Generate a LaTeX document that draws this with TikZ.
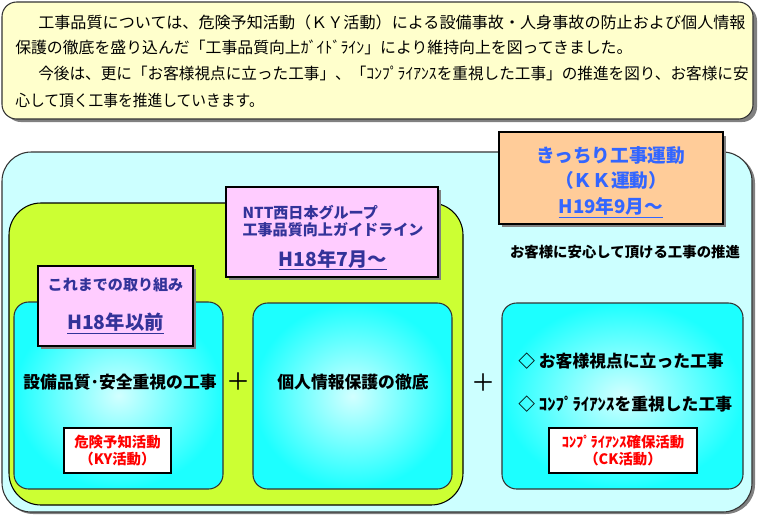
\documentclass[tikz,border=0pt]{standalone}
\usepackage{fontspec}
\usepackage{graphicx}
\setmainfont{Noto Sans CJK JP}
\definecolor{topyellow}{HTML}{FFFFCC}
\definecolor{outercyan}{HTML}{CCFFFF}
\definecolor{limegreen}{HTML}{CCFF33}
\definecolor{boxcyan}{HTML}{1CFFFF}
\definecolor{boxlight}{HTML}{D2FFFF}
\definecolor{pinkfill}{HTML}{FFCCFF}
\definecolor{navytext}{HTML}{333399}
\definecolor{orangefill}{HTML}{FFCC99}
\definecolor{bluetext}{HTML}{3366FF}
\definecolor{shadowgray}{HTML}{808080}
\definecolor{linegray}{HTML}{333333}
\tikzset{
  toptext/.style={anchor=west, inner sep=0pt, font=\fontsize{11.9pt}{14pt}\selectfont},
  shadowbox/.style={fill=shadowgray},
  gradbox/.style={draw=linegray, line width=0.8pt, inner color=boxlight, outer color=boxcyan, rounded corners=11pt},
  pinkbox/.style={draw=black, line width=0.8pt, fill=pinkfill},
  redbox/.style={draw=black, line width=0.8pt, fill=white},
  pinktext/.style={text=navytext, inner sep=0pt, font=\bfseries\fontsize{11.3pt}{14pt}\selectfont},
  pinkdate/.style={text=navytext, inner sep=0pt, font=\bfseries\fontsize{14.5pt}{16pt}\selectfont},
  kktext/.style={text=bluetext, inner sep=0pt, font=\bfseries\fontsize{14pt}{16pt}\selectfont},
  maintext/.style={inner sep=0pt, font=\bfseries\fontsize{12.6pt}{15pt}\selectfont},
  redtext/.style={text=red, inner sep=0pt, font=\bfseries\fontsize{10.8pt}{13pt}\selectfont},
  plustext/.style={inner sep=0pt, font=\fontsize{18pt}{18pt}\selectfont},
}
\begin{document}
\begin{tikzpicture}[x=0.75pt,y=-0.75pt]
\useasboundingbox (0,0) rectangle (760,515);
% top box
\fill[shadowgray, rounded corners=11pt] (6,6) rectangle (757,122);
\draw[fill=topyellow, draw=linegray, line width=0.8pt, rounded corners=11pt] (2,2) rectangle (753,119);
\node[toptext] (t1) at (38,22) {\scalebox{1.015}[1]{工事品質については、危険予知活動（ＫＹ活動）による設備事故・人身事故の防止および個人情報}};
\node[toptext] (t2) at (15,47) {保護の徹底を盛り込んだ「工事品質向上ｶﾞｲﾄﾞﾗｲﾝ」により維持向上を図ってきました。};
\node[toptext] (t3) at (38,73) {\scalebox{0.985}[1]{今後は、更に「お客様視点に立った工事」、「ｺﾝﾌﾟﾗｲｱﾝｽを重視した工事」の推進を図り、お客様に安}};
\node[toptext] (t4) at (15,100) {\scalebox{0.93}[1]{心して頂く工事を推進していきます。}};
% outer box
\fill[shadowgray, rounded corners=22pt] (4,154) rectangle (755,514);
\draw[fill=outercyan, draw=linegray, line width=0.8pt, rounded corners=22pt] (2,152) rectangle (752,512);
% green box
\draw[fill=limegreen, draw=black, line width=0.8pt, rounded corners=24pt] (9,203) rectangle (463,505);
% gradient boxes
\path[gradbox] (14,302) rectangle (223,489);
\path[gradbox] (253,303) rectangle (452,489);
\path[gradbox] (502,303) rectangle (743,489);
% pink box 1
\fill[shadowgray] (41,269) rectangle (196,349);
\draw[pinkbox] (38,266) rectangle (193,346);
\node[pinktext] (p1a) at (115.5,285) {これまでの取り組み};
\node[pinkdate] (p1b) at (115.5,323) {\underline{H18年以前}};
% pink box 2
\fill[shadowgray] (229,190) rectangle (441,280);
\draw[pinkbox] (226,187) rectangle (438,277);
\node[pinktext, align=left] (p2a) at (333,221) {NTT西日本グループ\\[-1pt]工事品質向上ガイドライン};
\node[pinkdate] (p2b) at (333,260) {\underline{H18年7月～}};
% orange box
\fill[shadowgray] (502,136) rectangle (726,227);
\draw[fill=orangefill, draw=black, line width=1.6pt] (499,132) rectangle (723,224);
\node[kktext] (k1) at (611,155) {きっちり工事運動};
\node[kktext] (k2) at (611,180) {（ＫＫ運動）};
\node[kktext] (k3) at (611,208) {\underline{H19年9月～}};
\node[inner sep=0pt, font=\bfseries\fontsize{10.8pt}{13pt}\selectfont] (safe) at (625,252) {お客様に安心して頂ける工事の推進};
% box A
\node[maintext] (a1) at (120,382) {設備品質･安全重視の工事};
\draw[redbox] (64,428) rectangle (171,473);
\node[redtext, align=center] (ky) at (117.5,450.5) {危険予知活動\\（KY活動）};
% plus signs
\node[plustext] (plus1) at (238,382) {＋};
\node[plustext] (plus2) at (483,383) {＋};
% box B
\node[maintext] (b1) at (353,382) {個人情報保護の徹底};
% box C
\node[maintext, anchor=west] (c1) at (518,361) {◇ お客様視点に立った工事};
\node[maintext, anchor=west] (c2) at (518,404) {◇ ｺﾝﾌﾟﾗｲｱﾝｽを重視した工事};
\draw[redbox] (549,428) rectangle (697,473);
\node[redtext, align=center] (ck) at (623,450.5) {ｺﾝﾌﾟﾗｲｱﾝｽ確保活動\\（CK活動）};
\end{tikzpicture}
\end{document}
